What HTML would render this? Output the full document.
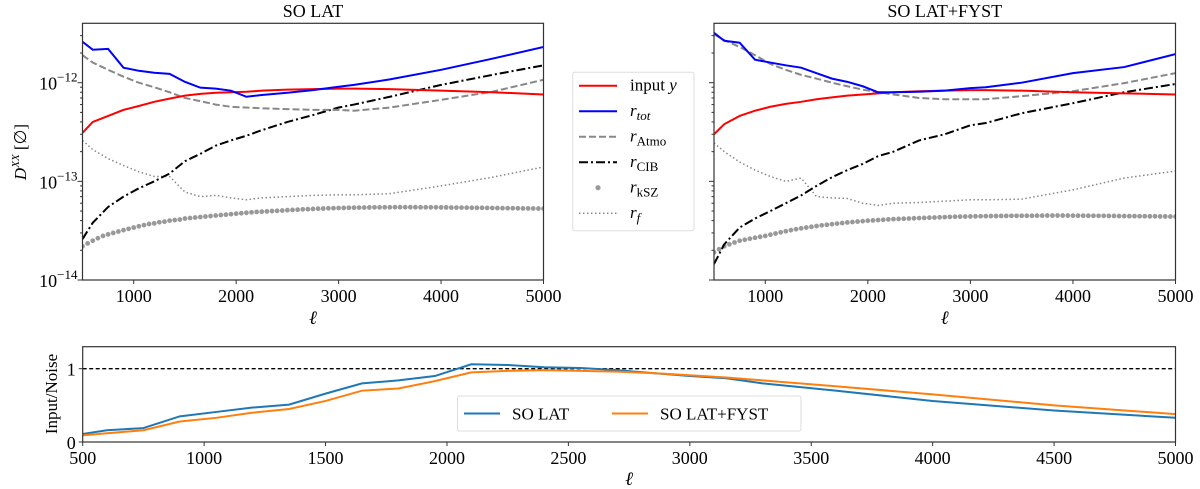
<!DOCTYPE html>
<html><head><meta charset="utf-8"><style>
html,body{margin:0;padding:0;background:#fff;}
svg{display:block;font-family:"Liberation Serif","DejaVu Serif",serif;}
</style></head><body>
<svg id="fig" width="1200" height="489" viewBox="0 0 1200 489" xmlns="http://www.w3.org/2000/svg"></svg>
<script>
// ---- data ----
const ellLines = [500,600,750,900,1050,1200,1350,1500,1650,1800,1950,2100,2250,2500,2750,3000,3150,3500,4000,4500,5000];
const latInput = [0.31,0.40,0.46,0.53,0.58,0.64,0.69,0.74,0.77,0.79,0.80,0.81,0.83,0.85,0.86,0.87,0.87,0.86,0.83,0.80,0.76];
const latTot   = [2.6,2.16,2.2,1.42,1.32,1.26,1.23,1.02,0.89,0.87,0.83,0.72,0.75,0.79,0.84,0.91,0.95,1.08,1.35,1.75,2.3];
const latAtmo  = [1.9,1.6,1.35,1.15,1.0,0.9,0.8,0.70,0.65,0.60,0.57,0.56,0.55,0.54,0.53,0.53,0.52,0.56,0.67,0.81,1.07];
const latCIB   = [0.026,0.038,0.055,0.07,0.085,0.10,0.12,0.16,0.19,0.23,0.26,0.29,0.33,0.40,0.47,0.56,0.60,0.72,0.95,1.2,1.5];
const latRf    = [0.26,0.21,0.17,0.145,0.125,0.112,0.112,0.078,0.070,0.072,0.068,0.065,0.068,0.070,0.072,0.073,0.073,0.075,0.090,0.11,0.14];
const fyInput = [0.30,0.38,0.46,0.52,0.57,0.61,0.64,0.68,0.71,0.74,0.76,0.78,0.80,0.82,0.83,0.84,0.84,0.83,0.80,0.78,0.76];
const fyTot   = [3.2,2.66,2.54,1.71,1.6,1.5,1.42,1.25,1.1,1.02,0.92,0.80,0.80,0.81,0.83,0.88,0.90,1.0,1.25,1.44,1.95];
const fyAtmo  = [3.1,2.7,2.3,1.9,1.55,1.35,1.2,1.1,1.0,0.92,0.85,0.80,0.76,0.70,0.68,0.68,0.68,0.73,0.82,0.99,1.25];
const fyCIB   = [0.0145,0.023,0.034,0.042,0.05,0.06,0.072,0.09,0.11,0.13,0.15,0.18,0.2,0.26,0.3,0.37,0.39,0.49,0.62,0.8,0.97];
const fyRf    = [0.245,0.20,0.157,0.13,0.112,0.100,0.108,0.070,0.068,0.067,0.060,0.057,0.060,0.061,0.063,0.065,0.065,0.066,0.082,0.108,0.127];
// kSZ points (units of 1e-14), ell = 500..5000 step 50
const ellKsz = [];
for (let l = 500; l <= 5000; l += 50) ellKsz.push(l);
const latKsz = [2.2,2.35,2.5,2.65,2.8,2.9,3.0,3.1,3.2,3.3,3.4,3.5,3.6,3.7,3.75,3.85,3.9,4.0,4.05,4.1,4.2,4.25,4.3,4.35,4.4,4.45,4.5,4.55,4.6,4.65,4.7,4.75,4.8,4.85,4.9,4.93,4.96,5.0,5.03,5.06,5.1,5.13,5.16,5.2,5.22,5.25,5.28,5.3,5.33,5.35,5.37,5.38,5.4,5.41,5.42,5.43,5.44,5.45,5.45,5.46,5.46,5.47,5.47,5.47,5.47,5.47,5.46,5.46,5.45,5.45,5.44,5.44,5.43,5.42,5.42,5.41,5.4,5.39,5.39,5.38,5.37,5.36,5.35,5.35,5.34,5.33,5.32,5.32,5.31,5.3,5.3];
const fyKsz = [1.9,2.05,2.2,2.3,2.4,2.5,2.56,2.62,2.68,2.74,2.8,2.88,2.96,3.04,3.12,3.2,3.27,3.34,3.4,3.46,3.52,3.58,3.63,3.68,3.73,3.78,3.83,3.87,3.91,3.95,3.99,4.02,4.05,4.08,4.11,4.14,4.16,4.18,4.2,4.22,4.24,4.26,4.28,4.3,4.32,4.34,4.36,4.38,4.39,4.4,4.41,4.42,4.43,4.44,4.45,4.45,4.46,4.46,4.47,4.47,4.48,4.48,4.48,4.49,4.49,4.5,4.5,4.5,4.5,4.5,4.49,4.49,4.49,4.48,4.48,4.47,4.47,4.46,4.46,4.45,4.45,4.44,4.44,4.43,4.43,4.42,4.42,4.41,4.41,4.4,4.4];
const ellRatio = [500,600,750,900,1050,1200,1350,1500,1650,1800,1950,2100,2250,2400,2550,2700,2850,3000,3150,3300,3600,4000,4500,5000];
const ratioLat  = [.11,.16,.19,.35,.41,.47,.51,.66,.80,.84,.90,1.06,1.05,1.02,1.01,.98,.94,.90,.87,.80,.70,.56,.43,.33];
const ratioFyst = [.09,.12,.16,.28,.33,.40,.45,.56,.70,.73,.83,.95,.97,.98,.97,.96,.94,.91,.88,.84,.76,.65,.50,.38];
const xTicksTop = [1000,2000,3000,4000,5000];
const xTicksBot = [500,1000,1500,2000,2500,3000,3500,4000,4500,5000];
const yDecades = [-14,-13,-12];

// ---- drawing ----
const svg = document.getElementById('fig');
const NS = 'http://www.w3.org/2000/svg';
function mk(tag, attrs, parent, text) {
  const e = document.createElementNS(NS, tag);
  for (const k in attrs) e.setAttribute(k, attrs[k]);
  if (text !== undefined) e.textContent = text;
  (parent || svg).appendChild(e);
  return e;
}
function linScale(d0,d1,r0,r1){return v=>r0+(v-d0)/(d1-d0)*(r1-r0);}
function logScale(d0,d1,r0,r1){return v=>r0+(Math.log10(v)-d0)/(d1-d0)*(r1-r0);}

function panel(x0, x1, title, name, showYLabels, data) {
  const y0 = 23.3, y1 = 280;
  const xs = linScale(500, 5000, x0, x1);
  const ys = logScale(-14, -11.398, y1, y0);
  const g = mk('g', {}, svg);
  
  
  const clipId = 'clip-' + name;
  const cp = mk('clipPath', {id: clipId}, g);
  mk('rect', {x: x0, y: y0, width: x1 - x0, height: y1 - y0}, cp);
  const t = mk('text', {x: (x0 + x1) / 2, y: 17, 'text-anchor': 'middle', 'font-size': 18}, g, title);
  
  
  const plot = mk('g', {'clip-path': 'url(#' + clipId + ')'}, g);
  function line(ells, vals, scale, attrs, nm) {
    const d = ells.map((l, i) => (i ? 'L' : 'M') + xs(l).toFixed(2) + ' ' + ys(vals[i] * scale).toFixed(2)).join(' ');
    const p = mk('path', Object.assign({d: d, fill: 'none'}, attrs), plot);
    
    
  }
  line(ellLines, data.rf, 1e-12, {stroke: '#888', 'stroke-width': 1.5, 'stroke-dasharray': '1.5 2.5'}, 'line-r-f');
  const kg = mk('g', {fill: '#999'}, plot);
  
  
  ellKsz.forEach((l, i) => {
    const c = mk('circle', {cx: xs(l).toFixed(2), cy: ys(data.ksz[i] * 1e-14).toFixed(2), r: 2.4}, kg);
    
    
  });
  line(ellLines, data.cib, 1e-12, {stroke: '#000', 'stroke-width': 2, 'stroke-dasharray': '9 3 2 3'}, 'line-r-cib');
  line(ellLines, data.atmo, 1e-12, {stroke: '#888', 'stroke-width': 2, 'stroke-dasharray': '7 3'}, 'line-r-atmo');
  line(ellLines, data.input, 1e-12, {stroke: '#f00', 'stroke-width': 2}, 'line-input-y');
  line(ellLines, data.tot, 1e-12, {stroke: '#00f', 'stroke-width': 2}, 'line-r-tot');
  const fr = mk('rect', {x: x0, y: y0, width: x1 - x0, height: y1 - y0, fill: 'none', stroke: '#333', 'stroke-width': 1.2}, g);
  
  
  xTicksTop.forEach(v => {
    const x = xs(v);
    mk('line', {x1: x, y1: y1, x2: x, y2: y1 + 4, stroke: '#333'}, g);
    const tl = mk('text', {x: x, y: y1 + 22, 'text-anchor': 'middle', 'font-size': 18}, g, String(v));
    
    
  });
  const xl = mk('text', {x: (x0 + x1) / 2, y: 324, 'text-anchor': 'middle', 'font-size': 19, 'font-style': 'italic'}, g, 'ℓ');
  
  
  for (let d = -14; d < -11.398; d++) {
    for (let m = 1; m < 10; m++) {
      const v = m * Math.pow(10, d);
      if (Math.log10(v) > -11.398) break;
      const y = ys(v);
      mk('line', {x1: x0, y1: y, x2: x0 - (m === 1 ? 5 : 2.5), y2: y, stroke: '#333'}, g);
    }
  }
  if (showYLabels) {
    yDecades.forEach(d => {
      const y = ys(Math.pow(10, d));
      const tx = mk('text', {x: x0 - 5, y: y + 7, 'text-anchor': 'end', 'font-size': 18}, g);
      
      
      mk('tspan', {}, tx, '10');
      mk('tspan', {dy: -8, 'font-size': 13}, tx, '\u2212' + (-d));
    });
  }
}
panel(82.5, 543.5, 'SO LAT', 'panel-so-lat', true,
  {input: latInput, tot: latTot, atmo: latAtmo, cib: latCIB, rf: latRf, ksz: latKsz});
panel(714, 1175.5, 'SO LAT+FYST', 'panel-so-lat-fyst', false,
  {input: fyInput, tot: fyTot, atmo: fyAtmo, cib: fyCIB, rf: fyRf, ksz: fyKsz});

const yt = mk('text', {transform: 'translate(26,152) rotate(-90)', 'text-anchor': 'middle', 'font-size': 17, 'font-style': 'italic'});


mk('tspan', {}, yt, 'D');
mk('tspan', {dy: -7, 'font-size': 11}, yt, 'XX');
mk('tspan', {dy: 7, 'font-style': 'normal'}, yt, '  [∅]');

const lg = mk('g', {});


mk('rect', {x: 572.7, y: 72.3, width: 121.3, height: 158.4, rx: 2, fill: '#fff', stroke: '#ddd'}, lg);
const entries = [
  {lab: 'input ', sub: null, it: 'y', st: {stroke: '#f00', 'stroke-width': 2}},
  {lab: 'r', sub: 'tot', subIt: true, st: {stroke: '#00f', 'stroke-width': 2}},
  {lab: 'r', sub: 'Atmo', st: {stroke: '#888', 'stroke-width': 2, 'stroke-dasharray': '7 3'}},
  {lab: 'r', sub: 'CIB', st: {stroke: '#000', 'stroke-width': 2, 'stroke-dasharray': '9 3 2 3'}},
  {lab: 'r', sub: 'kSZ', dot: true},
  {lab: 'r', sub: 'f', subIt: true, st: {stroke: '#888', 'stroke-width': 1.5, 'stroke-dasharray': '1.5 2.5'}}
];
entries.forEach((e, i) => {
  const y = 85.7 + i * 25.5;
  const eg = mk('g', {}, lg);
  
  
  if (e.dot) mk('circle', {cx: 598, cy: y, r: 2.6, fill: '#999'}, eg);
  else mk('line', Object.assign({x1: 579, y1: y, x2: 617, y2: y}, e.st), eg);
  const tx = mk('text', {x: 630, y: y + 5, 'font-size': 17}, eg);
  if (e.sub === null) { mk('tspan', {}, tx, e.lab); mk('tspan', {'font-style': 'italic'}, tx, e.it); }
  else {
    mk('tspan', {'font-style': 'italic'}, tx, e.lab);
    mk('tspan', {dy: 4, 'font-size': 13, 'font-style': e.subIt ? 'italic' : 'normal'}, tx, e.sub);
  }
});

(function(){
  const x0 = 82.7, x1 = 1175.5, y0 = 346.7, y1 = 442;
  const xs = linScale(500, 5000, x0, x1);
  const ys = linScale(0, 1.3, y1, y0);
  const g = mk('g', {});
  
  
  const ref = mk('line', {x1: x0, x2: x1, y1: ys(1), y2: ys(1), stroke: '#000', 'stroke-width': 1.3, 'stroke-dasharray': '4 2.5'}, g);
  
  
  function ln(vals, col, nm) {
    const d = ellRatio.map((l, i) => (i ? 'L' : 'M') + xs(l).toFixed(2) + ' ' + ys(vals[i]).toFixed(2)).join(' ');
    const p = mk('path', {d: d, fill: 'none', stroke: col, 'stroke-width': 2}, g);
    
    
  }
  ln(ratioLat, '#1f77b4', 'line-ratio-so-lat');
  ln(ratioFyst, '#ff7f0e', 'line-ratio-so-lat-fyst');
  mk('rect', {x: x0, y: y0, width: x1 - x0, height: y1 - y0, fill: 'none', stroke: '#333', 'stroke-width': 1.2}, g);
  xTicksBot.forEach(v => {
    const x = xs(v);
    mk('line', {x1: x, y1: y1, x2: x, y2: y1 + 4, stroke: '#333'}, g);
    const tl = mk('text', {x: x, y: y1 + 22, 'text-anchor': 'middle', 'font-size': 18}, g, String(v));
    
    
  });
  [0, 1].forEach(v => {
    const y = ys(v);
    mk('line', {x1: x0, y1: y, x2: x0 - 4, y2: y, stroke: '#333'}, g);
    const tl = mk('text', {x: x0 - 7, y: y + 7, 'text-anchor': 'end', 'font-size': 18}, g, String(v));
    
    
  });
  const xl = mk('text', {x: (x0 + x1) / 2, y: 485, 'text-anchor': 'middle', 'font-size': 19, 'font-style': 'italic'}, g, 'ℓ');
  
  
  const yl = mk('text', {transform: 'translate(57,394) rotate(-90)', 'text-anchor': 'middle', 'font-size': 17}, g, 'Input/Noise');
  
  
  const bl = mk('g', {}, g);
  
  
  mk('rect', {x: 457.5, y: 396, width: 343.5, height: 35, rx: 2, fill: '#fff', stroke: '#ddd'}, bl);
  mk('line', {x1: 464, y1: 413.5, x2: 500, y2: 413.5, stroke: '#1f77b4', 'stroke-width': 2}, bl);
  mk('text', {x: 512, y: 419.5, 'font-size': 17}, bl, 'SO LAT');
  mk('line', {x1: 612, y1: 413.5, x2: 648, y2: 413.5, stroke: '#ff7f0e', 'stroke-width': 2}, bl);
  mk('text', {x: 660, y: 419.5, 'font-size': 17}, bl, 'SO LAT+FYST');
})();
</script>
</body></html>
